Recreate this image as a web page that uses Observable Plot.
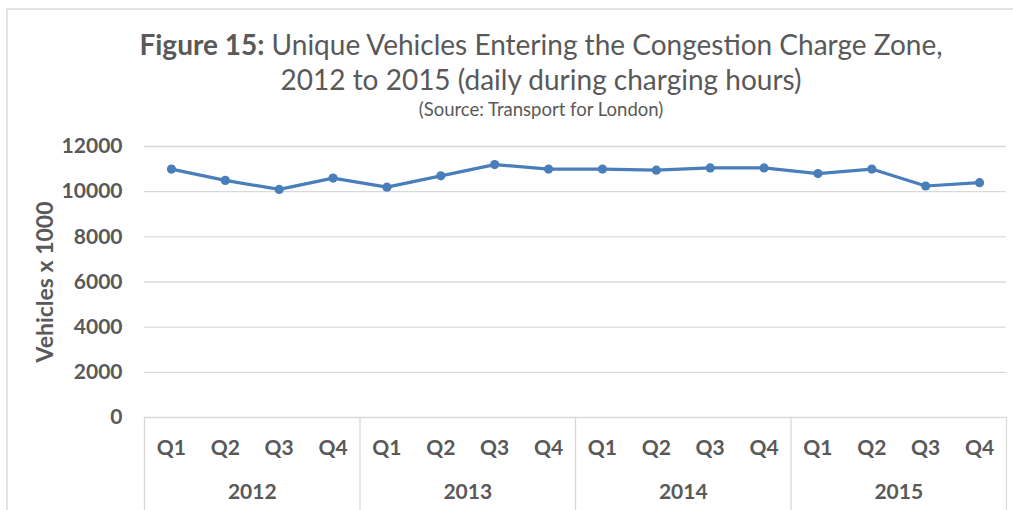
<!DOCTYPE html>
<html><head><meta charset="utf-8">
<script src="https://cdn.jsdelivr.net/npm/d3@7"></script>
<script src="https://cdn.jsdelivr.net/npm/@observablehq/plot@0.6"></script>
<style>
body{margin:0;background:#fff;width:1013px;height:510px;overflow:hidden;position:relative;font-family:Lato,sans-serif;color:#595959}
#frame{position:absolute;left:6px;top:8px;width:1100px;height:600px;border-top:2px solid #e3e3e3;border-left:2px solid #e3e3e3}
#head{position:absolute;left:0;top:0;width:1082px;height:125px;text-align:center}
.t{position:absolute;left:0;width:100%;font-size:28px;line-height:32px;white-space:nowrap}
.s{position:absolute;left:0;width:100%;font-size:18.5px;line-height:20px;white-space:nowrap}
#chart{position:absolute;left:0;top:125px}
</style></head><body>
<div id="frame"></div>
<div id="head">
<div class="t" style="top:28px"><b>Figure 15:</b> Unique Vehicles Entering the Congestion Charge Zone,</div>
<div class="t" style="top:63px">2012 to 2015 (daily during charging hours)</div>
<div class="s" style="top:99px">(Source: Transport for London)</div>
</div>
<div id="chart"></div>
<script>
const years = ["2012", "2013", "2014", "2015"];
const quarters = ["Q1", "Q2", "Q3", "Q4"];
const values = [11000, 10500, 10100, 10600, 10200, 10700, 11200, 11000, 11000, 10950, 11050, 11050, 10800, 11000, 10250, 10400];
const yTicks = [0, 2000, 4000, 6000, 8000, 10000, 12000];

const rows = values.map((v, i) => ({i, year: years[Math.floor(i / 4)], quarter: quarters[i % 4], value: v}));
const boundaries = d3.range(years.length + 1).map(k => 4 * k - 0.5);

const W = 1013, H = 385, mt = 21, mb = 93, ml = 144, mr = 7;
const FS = 21;
const chart = Plot.plot({
  width: W, height: H, marginTop: mt, marginBottom: mb, marginLeft: ml, marginRight: mr,
  style: {fontFamily: "Lato, sans-serif", fontSize: FS + "px", fontWeight: "bold", color: "#595959", background: "transparent", overflow: "visible"},
  x: {type: "linear", domain: [-0.5, values.length - 0.5]},
  y: {domain: [0, 12000]},
  marks: [
    Plot.ruleY(yTicks, {stroke: "#d9d9d9", strokeWidth: 1.3}),
    Plot.ruleX(boundaries, {stroke: "#d9d9d9", strokeWidth: 1.3, insetTop: H - mt - mb, insetBottom: -mb}),
    Plot.axisY({ticks: yTicks, tickFormat: d => String(d), tickSize: 0, tickPadding: 22, fontSize: FS, label: null}),
    Plot.text(["Vehicles x 1000"], {frameAnchor: "left", textAnchor: "middle", rotate: -90, dx: -99, fontSize: 23, fontWeight: "bold"}),
    Plot.axisX({ticks: d3.range(values.length), tickFormat: i => quarters[i % 4], tickSize: 0, tickPadding: 23, fontSize: FS, label: null}),
    Plot.text(years, {x: (d, k) => 4 * k + 1.5, frameAnchor: "bottom", dy: 81, fontSize: FS}),
    Plot.line(rows, {x: "i", y: "value", stroke: "#4a7ebb", strokeWidth: 3.2}),
    Plot.dot(rows, {x: "i", y: "value", r: 4.6, fill: "#4a7ebb"})
  ]
});
document.getElementById("chart").appendChild(chart);
</script>
</body></html>
